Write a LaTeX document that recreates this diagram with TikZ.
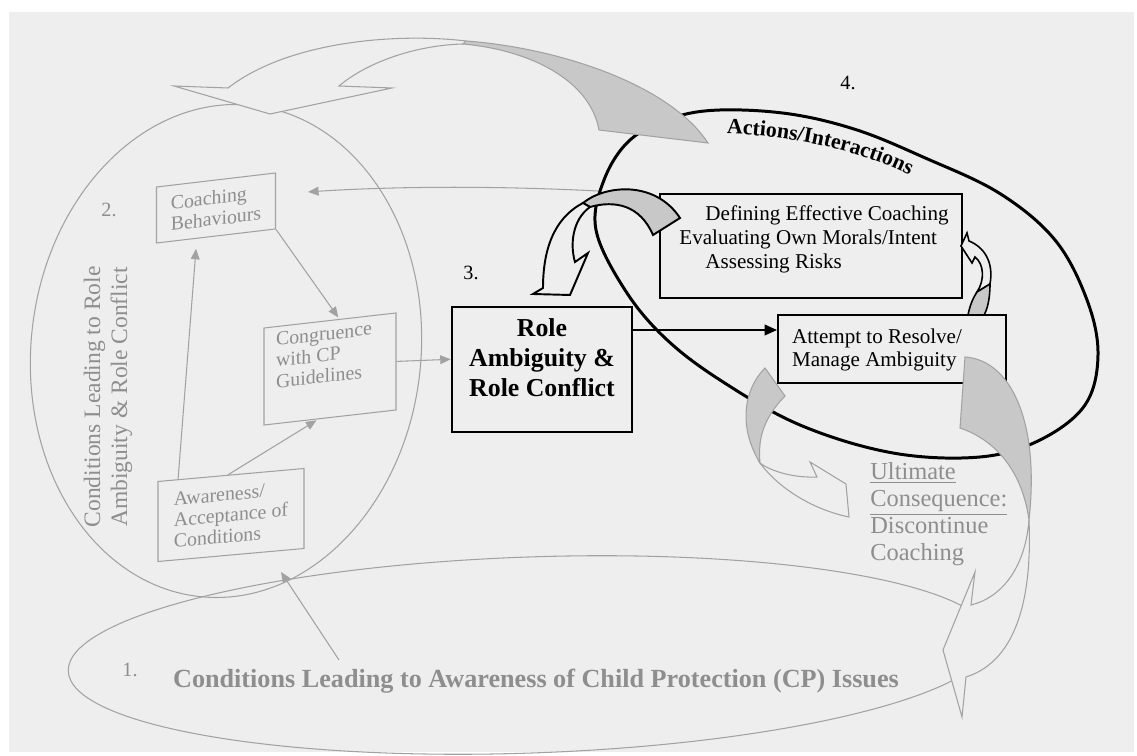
\documentclass[tikz,border=0pt]{standalone}
\usepackage{fontspec}
\setmainfont{Liberation Serif}
\usetikzlibrary{arrows.meta,calc,decorations.text}

\definecolor{paper}{HTML}{EEEEEE}
\definecolor{lightline}{HTML}{A2A2A2}
\definecolor{lighttext}{HTML}{8E8E8E}
\definecolor{bandgray}{HTML}{C8C8C8}
\newcommand\actfont{\fontsize{12.4}{14}\selectfont\bfseries}

\begin{document}
\begin{tikzpicture}[x=0.02cm, y=-0.02cm,
  faint/.style={draw=lightline, line width=0.6pt},
  faintarrow/.style={draw=lightline, line width=0.6pt, -{Triangle[length=6pt,width=5pt]}},
  slantbox/.style={draw=lightline, line width=0.6pt, inner sep=0pt},
  slanttext/.style={text=lighttext, align=left, inner sep=0pt, font=\fontsize{11.3}{12}\selectfont},
  blackbox/.style={draw=black, line width=1.1pt, inner sep=0pt},
  bandwhite/.style={draw=lightline, line width=0.6pt, fill=paper},
  bandshade/.style={draw=lightline, line width=0.6pt, fill=bandgray},
  inkwhite/.style={draw=black, line width=1.1pt, fill=paper},
  inkshade/.style={draw=black, line width=1.1pt, fill=bandgray},
  plaintext/.style={inner sep=0pt, align=left},
]
\useasboundingbox (0,0) rectangle (1137,756);
\fill[white] (0,0) rectangle (1137,756);
\fill[paper] (9,12) rectangle (1134,752);

% stage 1 and stage 2 outlines
\draw[faint, rotate around={2:(530,655)}] (530,655) ellipse [x radius=462, y radius=98];
\draw[faint, rotate around={-6:(226,351)}] (226,351) ellipse [x radius=195, y radius=247];

% stage 2 boxes
\node[slantbox, slanttext, yslant=0.118, minimum width=119*0.02cm, minimum height=56*0.02cm] (cb) at (216,208) {Coaching\\Behaviours};
\node[slantbox, yslant=0.114, minimum width=132*0.02cm, minimum height=97*0.02cm] (cg) at (330,369) {};
\node[slanttext, yslant=0.114] (cgtext) at (324,355) {Congruence\\with CP\\Guidelines};
\node[slantbox, slanttext, yslant=0.089, minimum width=146*0.02cm, minimum height=80*0.02cm] (aw) at (231,515) {Awareness/\\Acceptance of\\Conditions};

\node[text=lighttext, rotate=90, align=center, inner sep=0pt, font=\fontsize{13.4}{15.3}\selectfont] (ell2text) at (108,397) {Conditions Leading to Role\\Ambiguity \& Role Conflict};
\node[text=lighttext, inner sep=0pt, font=\fontsize{11.5}{12}\selectfont] (n2) at (109,210) {2.};
\node[text=lighttext, inner sep=0pt, font=\fontsize{11.5}{12}\selectfont] (n1) at (130,670) {1.};
\node[text=lighttext, inner sep=0pt, font=\fontsize{14.9}{16}\selectfont\bfseries] (cond1) at (536,681) {Conditions Leading to Awareness of Child Protection (CP) Issues};

% stage 3
\node[draw=black, line width=1.4pt, minimum width=180*0.02cm, minimum height=125*0.02cm, inner sep=0pt] (role) at (542,369.5) {};
\node[inner sep=0pt, align=center, font=\fontsize{14.7}{17}\selectfont\bfseries] (roletext) at (542,358) {Role\\Ambiguity \&\\Role Conflict};
\node[inner sep=0pt, font=\fontsize{11.5}{12}\selectfont] (n3) at (471,273) {3.};

% connectors inside stage 2 and towards stage 3
\coordinate (e1src) at (339,660);
\coordinate (e2tip) at (281,572);
\draw[faintarrow] (e1src) -- (e2tip);
\draw[faintarrow, shorten >=10*0.02cm] ($(aw.north west)!0.14!(aw.north east)$) -- ($(cb.south west)!0.34!(cb.south east)$);
\draw[faintarrow, shorten >=1pt] ($(aw.north west)!0.48!(aw.north east)$) -- ($(cg.south west)!0.41!(cg.south east)$);
\draw[faintarrow, shorten >=1pt] (cb.south east) -- ($(cg.north west)!0.57!(cg.north east)$);
\draw[faintarrow] (cg.east) -- ($(role.north west)!0.42!(role.south west)$);

% stage 4
\draw[line width=1.7pt] plot[smooth cycle, tension=0.6] coordinates {(596,230) (604,180) (630,140) (672,118) (720,110) (790,114) (857,130) (923,157) (999,193) (1055,240) (1087,300) (1098,355) (1085,405) (1040,440) (980,457) (893,453) (800,425) (720,380) (665,338) (625,290)};
\coordinate (actleft) at (598,191);
\draw[faintarrow] (actleft) .. controls (500,186) and (400,186) .. ($(cb.east)+(32,-9)$);
\path[decorate, decoration={text along path, text={|\actfont|Actions/Interactions}, text align=center}] (724,134) .. controls (775,134) and (855,147) .. (912,177);
\node[inner sep=0pt, font=\fontsize{11.5}{12}\selectfont] (n4) at (848,83) {4.};

\node[blackbox, minimum width=302*0.02cm, minimum height=104*0.02cm] (def) at (811,246) {};
\node[plaintext, font=\fontsize{12}{13.6}\selectfont] (deftext) at (814,239) {\hspace*{0.52cm}Defining Effective Coaching\\Evaluating Own Morals/Intent\\\hspace*{0.52cm}Assessing Risks};
\node[blackbox, minimum width=228*0.02cm, minimum height=68*0.02cm] (att) at (892,349) {};
\node[plaintext, font=\fontsize{12}{13.6}\selectfont] (atttext) at (877,350) {Attempt to Resolve/\\Manage Ambiguity};
\draw[line width=1.1pt, -{Triangle[length=7pt,width=6pt]}] (role.east |- 0,330) -- (att.west |- 0,330);

\node[text=lighttext, anchor=west, align=left, inner sep=0pt, font=\fontsize{13.9}{15.3}\selectfont] (ult) at (870,514) {\underline{Ultimate}\\\underline{Consequence:}\\Discontinue\\Coaching};

% large curved arrow from stage 4 back over stage 2
\draw[bandwhite] (466,41) .. controls (400,33) and (290,40) .. (228,88) -- (174,86) -- (270,114) -- (392,88) -- (339,86) .. controls (370,60) and (420,45) .. (463,44) -- cycle;
\draw[bandshade] (466,41) .. controls (560,48) and (670,85) .. (708,143) -- (599,130) .. controls (590,80) and (530,50) .. (463,44) -- cycle;

% curved arrow from stage 4 down to stage 3
\draw[inkshade] (583,203) .. controls (605,185) and (655,180) .. (680,218) -- (653,235) .. controls (640,205) and (615,200) .. (590,207) -- cycle;
\draw[inkwhite] (583,203) .. controls (560,215) and (543,240) .. (543,288) -- (533,294) -- (570,295) -- (588,253) -- (575,262) .. controls (570,245) and (572,220) .. (590,207) -- cycle;

% small loop arrow between the two action boxes
\draw[draw=black, line width=0.9pt, fill=paper] (990,284) .. controls (994,262) and (984,247) .. (969,241) -- (967,233) -- (961,246) -- (972,263) -- (975,257) .. controls (984,264) and (985,280) .. (977,292) -- cycle;
\draw[draw=black, line width=0.9pt, fill=bandgray] (977,292) -- (990,284) .. controls (990,300) and (987,310) .. (984,315) -- (968,315) .. controls (970,305) and (973,298) .. (977,292) -- cycle;

% curved arrows to the ultimate consequence and back to stage 1
\draw[bandshade] (765,368) .. controls (745,388) and (737,425) .. (760,463) .. controls (758,440) and (762,420) .. (785,396) -- cycle;
\draw[bandwhite] (760,463) .. controls (780,490) and (815,510) .. (849,517) -- (846,484) -- (810,462) -- (817,477) .. controls (795,478) and (772,472) .. (760,463) -- cycle;
\draw[bandshade] (965,357) .. controls (1010,360) and (1040,420) .. (1029,520) .. controls (1022,470) and (995,440) .. (960,428) -- cycle;
\draw[bandwhite] (1029,520) .. controls (1032,590) and (1020,660) .. (966,677) -- (962,717) -- (943,650) -- (975,572) -- (971,605) .. controls (1000,598) and (1025,570) .. (1029,520) -- cycle;
\end{tikzpicture}
\end{document}
